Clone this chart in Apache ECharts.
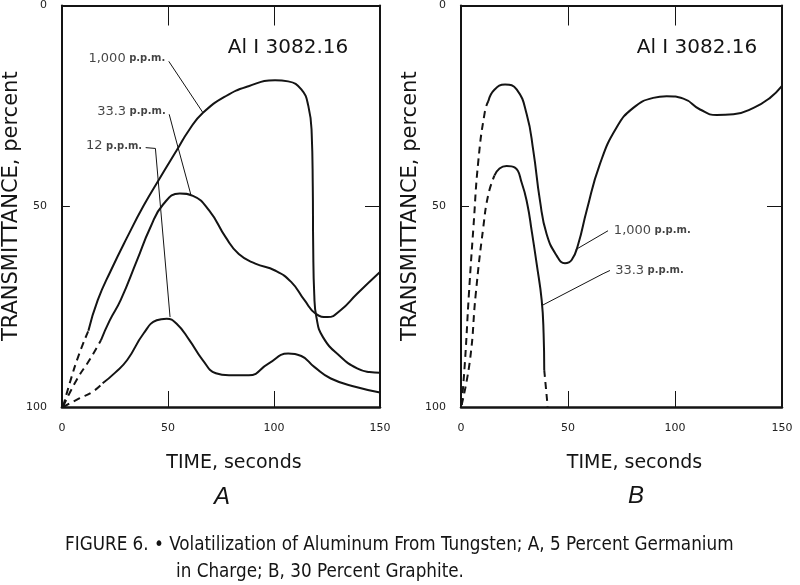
<!DOCTYPE html>
<html><head><meta charset="utf-8">
<script src="https://cdn.jsdelivr.net/npm/echarts@6/dist/echarts.min.js"></script>
<style>html,body{margin:0;padding:0;background:#fff}#c{width:800px;height:585px}</style>
</head><body><div id="c"></div>
<script>
// ---- tick labels / texts ----
const timeTicks = [0, 50, 100, 150];
const transTicks = [0, 50, 100];
const lineLabel = 'Al I 3082.16';
const captionLines = ['FIGURE 6. • Volatilization of Aluminum From Tungsten; A, 5 Percent Germanium', 'in Charge; B, 30 Percent Graphite.'];
const concA = ['1,000', '33.3', '12'];
const concB = ['1,000', '33.3'];

// ---- Panel A (5 Percent Germanium) : [time s, transmittance %] ----
const a1000Dashed = [[0.6,99.8],[4,93.5],[8,87],[12.5,81]];
const a1000Solid = [[12.5,81],[16.9,73.4],[23.1,66],[30.8,57.7],[38.5,49.9],[46.3,42.9],[54,36.2],[60,31],[66.4,26.8],[77.2,22.6],[88,20.1],[100.5,18.6],[106.7,18.9],[112.9,20.9],[116.2,25],[117.8,32],[118.3,45],[118.5,60],[119,72],[120,77.6],[123.1,82.6],[131.4,87.5],[139.2,90.4],[145,91.3],[150,91.5]];
const a333Dashed = [[0.6,99.8],[7,93.2],[13,88.3],[18.4,83.4]];
const a333Solid = [[18.4,83.4],[22.5,78.5],[27.7,73.4],[35.4,63.5],[41.7,55.3],[47.8,49.5],[55.6,46.8],[61.8,47.4],[69.5,51.1],[77.2,57.7],[83.4,61.9],[91.2,64.3],[100.5,66],[108.2,68.9],[114.4,73.4],[119.8,76.8],[125.3,77.6],[131.4,75.9],[139.2,71.8],[150,66.4]];
const a12Dashed = [[0.6,100],[8.4,97.8],[14.5,96.2],[19.2,94.1]];
const a12Solid = [[19.2,94.1],[25,91.5],[30.8,88.3],[38.5,81.7],[44.7,78.4],[49.4,78],[54,79.2],[60.2,83.4],[66.4,88.3],[72.6,91.6],[78.8,92.1],[88.1,92.1],[97.4,89.2],[106.7,86.7],[112.9,87.3],[119,90],[126.8,92.9],[139.2,95.1],[150,96.4]];

// ---- Panel B (30 Percent Graphite) ----
const b1000Dashed = [[0.3,99.5],[1.9,88.3],[3.7,71.8],[5.8,55.3],[8.1,38.7],[11.2,26.3],[12.8,23.8]];
const b1000Solid = [[12.8,23.8],[15.6,21],[20.6,19.7],[26,20.9],[30.7,27.1],[33.8,36.2],[36.9,48.6],[40,56.9],[44.7,62.3],[48.6,64.2],[51.7,63.4],[54.8,59.4],[58.7,51.1],[64.9,39.5],[72.7,30.4],[80.5,25.5],[89.8,23],[96.1,22.6],[103.9,23.2],[111.7,25.9],[119.5,27.3],[127.3,27.1],[136.7,25.5],[144.4,23],[149.9,20.1]];
const b333Dashed = [[0.3,99.5],[4.2,88.3],[6.9,71.8],[10.4,55.3],[12.8,47],[15.6,42.4]];
const b333Solid = [[15.6,42.4],[18,40.6],[21.3,40],[25.2,40.4],[28.4,44.2],[31,49.5],[33,56],[35.4,64.5],[37.7,73.4],[38.6,81.7],[38.9,90.8]];
const b333Tail = [[38.9,90.8],[40.5,99.9]];

const FONT = "'DejaVu Sans', sans-serif";
const INK = '#141414';

function curve(data, g, dashed) {
  return {
    type: 'line', xAxisIndex: g * 2, yAxisIndex: g * 2, data: data,
    showSymbol: false, symbol: 'none', smooth: 0.5,
    lineStyle: { color: INK, width: 2, type: dashed ? [7, 5] : 'solid' },
    silent: true, z: 3
  };
}
function leader(coords, g) {
  return {
    type: 'lines', coordinateSystem: 'cartesian2d', xAxisIndex: g * 2, yAxisIndex: g * 2,
    polyline: true, symbol: ['none', 'arrow'], symbolSize: 7,
    lineStyle: { color: INK, width: 1, opacity: 1, curveness: 0 },
    data: [{ coords: coords }], silent: true, z: 4
  };
}
function tag(text, at, g, side) {
  return {
    type: 'scatter', xAxisIndex: g * 2, yAxisIndex: g * 2, symbolSize: 1,
    itemStyle: { color: 'rgba(0,0,0,0)' }, silent: true, z: 5,
    data: [{ value: at }],
    label: {
      show: true, position: side, distance: 3,
      formatter: '{n|' + text + '}{u| p.p.m.}',
      rich: { n: { fontFamily: FONT, fontSize: 13, color: INK }, u: { fontFamily: FONT, fontSize: 10, color: INK, fontWeight: 'bold' } }
    }
  };
}

function xAx(g, pos) {
  const bottom = pos === 'bottom';
  return {
    type: 'value', gridIndex: g, position: pos, min: 0, max: 150, interval: 50,
    axisLine: { show: true, onZero: false, lineStyle: { color: INK, width: bottom ? 2.5 : 2 } },
    axisTick: { show: true, inside: true, length: bottom ? 16 : 20, lineStyle: { color: INK, width: 1 } },
    axisLabel: { show: bottom, margin: 16, fontFamily: FONT, fontSize: 11, color: '#222',
      formatter: v => timeTicks.includes(v) ? String(v) : '' },
    splitLine: { show: false },
    name: bottom ? 'TIME, seconds' : '', nameLocation: 'middle', nameGap: 47,
    nameTextStyle: { fontFamily: FONT, fontSize: 19, color: INK, padding: [0, 0, 0, 26] }
  };
}
function yAx(g, pos, gap) {
  const left = pos === 'left';
  return {
    type: 'value', gridIndex: g, position: pos, min: 0, max: 100, interval: 50, inverse: true,
    axisLine: { show: true, onZero: false, lineStyle: { color: INK, width: 2 } },
    axisTick: { show: true, inside: true, length: left ? 8 : 15, lineStyle: { color: INK, width: 1 } },
    axisLabel: { show: left, margin: 15, fontFamily: FONT, fontSize: 11, color: '#222',
      formatter: v => transTicks.includes(v) ? String(v) : '' },
    splitLine: { show: false },
    name: left ? 'TRANSMITTANCE, percent' : '', nameLocation: 'middle', nameRotate: 90, nameGap: gap,
    nameTextStyle: { fontFamily: FONT, fontSize: 21, color: INK }
  };
}

const chart = echarts.init(document.getElementById('c'), null, { renderer: 'canvas' });
chart.setOption({
  animation: false,
  backgroundColor: '#fff',
  grid: [
    { left: 57, top: 4, width: 323, height: 403, show: false },
    { left: 461, top: 4, width: 321, height: 403, show: false }
  ],
  xAxis: [xAx(0, 'bottom'), xAx(0, 'top'), xAx(1, 'bottom'), xAx(1, 'top')],
  yAxis: [yAx(0, 'left', 37), yAx(0, 'right', 0), yAx(1, 'left', 17), yAx(1, 'right', 0)],
  series: [
    curve(a1000Dashed, 0, true), curve(a1000Solid, 0, false),
    curve(a333Dashed, 0, true), curve(a333Solid, 0, false),
    curve(a12Dashed, 0, true), curve(a12Solid, 0, false),
    curve(b1000Dashed, 1, true), curve(b1000Solid, 1, false),
    curve(b333Dashed, 1, true), curve(b333Solid, 1, false), curve(b333Tail, 1, true),
    leader([[50.4, 13.9], [66.4, 26.6]], 0),
    leader([[50.6, 27.1], [53.3, 32.5], [60.8, 47.1]], 0),
    leader([[39.5, 35.4], [44.1, 35.6], [51, 77.6]], 0),
    leader([[68.7, 56.1], [53.6, 60.8]], 1),
    leader([[69.6, 66], [66.4, 66.8], [37.9, 74.7]], 1),
    tag(concA[0], [50.4, 13.2], 0, 'left'),
    tag(concA[1], [50.6, 26.4], 0, 'left'),
    tag(concA[2], [39.5, 35.0], 0, 'left'),
    tag(concB[0], [69.8, 56.1], 1, 'right'),
    tag(concB[1], [70.4, 66], 1, 'right')
  ],
  graphic: [
    { type: 'text', x: 288, y: 48, style: { text: lineLabel, font: "20px 'DejaVu Sans'", fill: INK, align: 'center', verticalAlign: 'middle' } },
    { type: 'text', x: 697, y: 48, style: { text: lineLabel, font: "20px 'DejaVu Sans'", fill: INK, align: 'center', verticalAlign: 'middle' } },
    { type: 'text', x: 222, y: 497, style: { text: 'A', font: "italic 24px 'Liberation Sans'", fill: INK, align: 'center', verticalAlign: 'middle' } },
    { type: 'text', x: 636, y: 496, style: { text: 'B', font: "italic 24px 'Liberation Sans'", fill: INK, align: 'center', verticalAlign: 'middle' } },
    { type: 'text', x: 65, y: 545, style: { text: captionLines[0], font: "18.7px 'Liberation Sans Narrow', 'DejaVu Sans Condensed', sans-serif", fill: INK, align: 'left', verticalAlign: 'middle' } },
    { type: 'text', x: 176, y: 572, style: { text: captionLines[1], font: "18.7px 'Liberation Sans Narrow', 'DejaVu Sans Condensed', sans-serif", fill: INK, align: 'left', verticalAlign: 'middle' } }
  ]
});
</script></body></html>
